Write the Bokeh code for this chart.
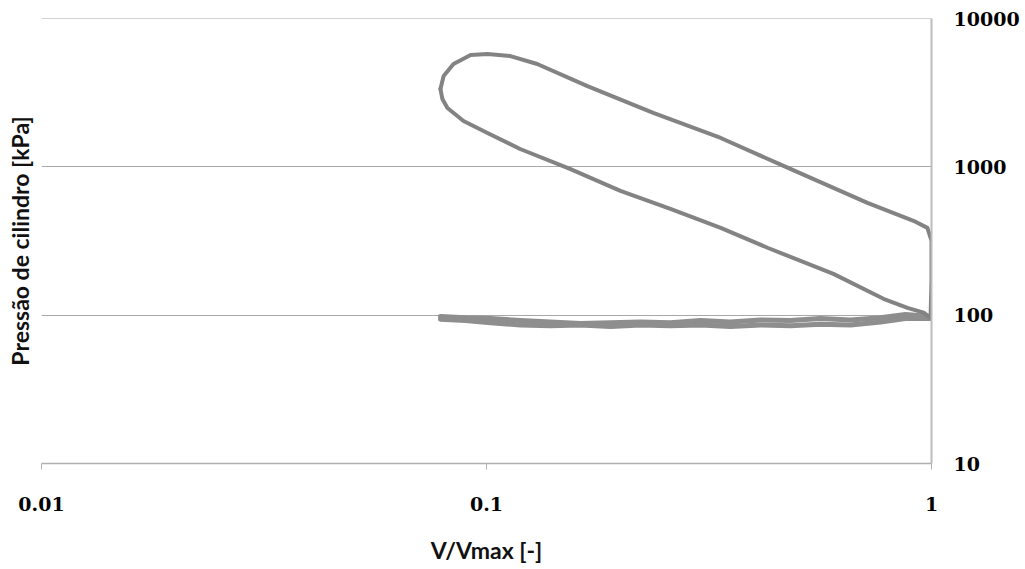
from bokeh.plotting import figure
from bokeh.models import LogAxis, FixedTicker, CustomJSTickFormatter
from bokeh.embed import file_html
from bokeh.resources import INLINE

# ---- data ----
v_compression = [1.0, 0.995, 0.96, 0.883, 0.78, 0.602, 0.428, 0.336, 0.259, 0.200,
                 0.154, 0.119, 0.1005, 0.0888, 0.0817, 0.0796, 0.0788]
p_compression = [95, 96, 104, 112, 129, 190, 285, 388, 521, 689,
                 970, 1321, 1694, 2042, 2496, 2870, 3350]

v_expansion = [0.0788, 0.0801, 0.0843, 0.0921, 0.1005, 0.1132, 0.130, 0.1686, 0.237,
               0.336, 0.465, 0.718, 0.911, 0.979, 1.0, 1.0, 0.995]
p_expansion = [3350, 4103, 4944, 5677, 5765, 5590, 4944, 3508, 2311,
               1567, 1016, 572, 433, 388, 318, 171, 96]

v_exhaust = [0.995, 0.874, 0.768, 0.658, 0.563, 0.482, 0.413, 0.353, 0.303,
             0.259, 0.222, 0.190, 0.1626, 0.1392, 0.1192, 0.1021, 0.0897, 0.0788]
p_exhaust = [98, 101, 96, 93, 95, 92, 93, 90, 92,
             89, 90, 89, 88, 90, 92, 95, 96, 98]

v_intake = [0.0788, 0.0897, 0.1021, 0.1192, 0.1392, 0.1626, 0.190, 0.222, 0.259,
            0.303, 0.353, 0.413, 0.482, 0.563, 0.658, 0.768, 0.874, 0.995]
p_intake = [94, 92, 89, 86, 85, 86, 84, 86, 85,
            86, 84, 86, 85, 87, 86, 90, 95, 95]

x_ticks = [0.01, 0.1, 1]
x_tick_labels = ["0.01", "0.1", "1"]
y_ticks = [10, 100, 1000, 10000]
y_tick_labels = ["10", "100", "1000", "10000"]
x_title = "V/Vmax [-]"
y_title = "Pressão de cilindro [kPa]"

# ---- figure ----
p = figure(width=1024, height=568, x_axis_type="log", y_axis_type="log",
           x_range=(0.01, 1), y_range=(10, 10020), y_axis_location="right",
           output_backend="svg", toolbar_location=None,
           min_border_left=41, min_border_right=93, min_border_top=18,
           min_border_bottom=105)
p.outline_line_color = None
p.background_fill_color = "white"
p.border_fill_color = "white"

for vx, py in [(v_exhaust, p_exhaust), (v_intake, p_intake)]:
    p.line(vx, py, line_color="#8e8e8e", line_width=5,
           line_join="round", line_cap="round")
for vx, py in [(v_compression, p_compression), (v_expansion, p_expansion)]:
    p.line(vx, py, line_color="#838383", line_width=4,
           line_join="round", line_cap="round")

fmt = CustomJSTickFormatter(code="return String(tick);")

xa = p.xaxis[0]
xa.ticker = FixedTicker(ticks=x_ticks, minor_ticks=[])
xa.formatter = fmt
xa.major_label_overrides = dict(zip(x_ticks, x_tick_labels))
xa.axis_line_color = "#b0b0b0"
xa.axis_line_width = 1.5
xa.major_tick_line_color = "#b0b0b0"
xa.major_tick_in = 0
xa.major_tick_out = 6
xa.minor_tick_line_color = None
xa.major_label_standoff = 27
xa.major_label_text_font = "DejaVu Serif"
xa.major_label_text_font_style = "bold"
xa.major_label_text_font_size = "19px"
xa.major_label_text_color = "black"
xa.axis_label = x_title
xa.axis_label_standoff = 22
xa.axis_label_text_font = "Lato"
xa.axis_label_text_font_style = "bold"
xa.axis_label_text_font_size = "23px"
xa.axis_label_text_color = "#111111"

ya = p.yaxis[0]
ya.ticker = FixedTicker(ticks=y_ticks, minor_ticks=[])
ya.formatter = fmt
ya.major_label_overrides = dict(zip(y_ticks, y_tick_labels))
ya.axis_line_color = "#bcbcbc"
ya.axis_line_width = 2
ya.major_tick_line_color = None
ya.minor_tick_line_color = None
ya.major_label_standoff = 16
ya.major_label_text_font = "DejaVu Serif"
ya.major_label_text_font_style = "bold"
ya.major_label_text_font_size = "19px"
ya.major_label_text_color = "black"

la = LogAxis(ticker=FixedTicker(ticks=[], minor_ticks=[]), axis_label=y_title,
             axis_line_color=None, major_tick_line_color=None,
             minor_tick_line_color=None, major_label_text_font_size="0px",
             major_tick_out=0, major_tick_in=0, major_label_standoff=0,
             axis_label_standoff=8, axis_label_text_font="Lato",
             axis_label_text_font_style="bold", axis_label_text_font_size="23px",
             axis_label_text_color="#111111")
p.add_layout(la, "left")

p.xgrid.visible = False
p.ygrid.ticker = FixedTicker(ticks=y_ticks, minor_ticks=[])
p.ygrid.grid_line_color = "#a8a8a8"
p.ygrid.grid_line_width = 1

open("out.html", "w").write(file_html(p, INLINE))
